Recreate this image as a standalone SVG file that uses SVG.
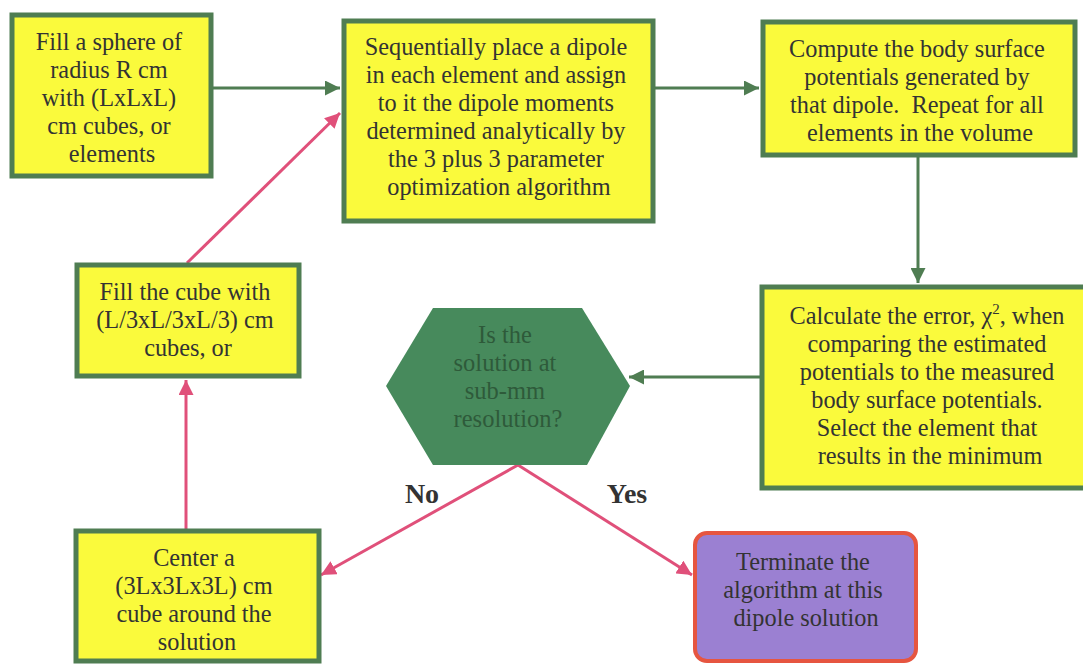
<svg xmlns="http://www.w3.org/2000/svg" width="1083" height="665" viewBox="0 0 1083 665">
  <style>
    text { font-family: "Liberation Serif", "Times New Roman", serif; }
    .box { fill: #fafa3c; stroke: #4f7d52; stroke-width: 5; }
    .txt { font-size: 24.3px; fill: #333333; text-anchor: middle; }
    .hex { fill: #478a5c; }
    .hextxt { font-size: 24.5px; fill: #2e5a3a; text-anchor: middle; }
    .term { fill: #9b80d2; stroke: #e65540; stroke-width: 4; }
    .lbl { font-size: 28px; font-weight: bold; fill: #333333; text-anchor: middle; }
    .g { stroke: #4f7d52; stroke-width: 3; fill: none; }
    .p { stroke: #e0507a; stroke-width: 3; fill: none; }
  </style>
  <defs>
    <marker id="ag" viewBox="0 0 10 10" refX="10" refY="5" markerWidth="5" markerHeight="5" orient="auto" markerUnits="strokeWidth">
      <path d="M0,0 L10,5 L0,10 Z" fill="#4f7d52"/>
    </marker>
    <marker id="ap" viewBox="0 0 10 10" refX="10" refY="5" markerWidth="5" markerHeight="5" orient="auto" markerUnits="strokeWidth">
      <path d="M0,0 L10,5 L0,10 Z" fill="#e0507a"/>
    </marker>
  </defs>

  <rect width="1083" height="665" fill="#ffffff"/>

  <!-- flow arrows: green for the main loop, pink for the refinement path -->
  <g id="connectors">
    <line class="g" x1="213" y1="88" x2="340" y2="88" marker-end="url(#ag)"/>
    <line class="g" x1="655" y1="88" x2="759" y2="88" marker-end="url(#ag)"/>
    <line class="g" x1="918" y1="157" x2="918" y2="283" marker-end="url(#ag)"/>
    <line class="g" x1="760" y1="377" x2="629" y2="377" marker-end="url(#ag)"/>
    <line class="p" x1="518" y1="465" x2="321" y2="575" marker-end="url(#ap)"/>
    <line class="p" x1="518" y1="465" x2="692" y2="575" marker-end="url(#ap)"/>
    <line class="p" x1="186" y1="529" x2="186" y2="380" marker-end="url(#ap)"/>
    <line class="p" x1="187" y1="263" x2="340" y2="113" marker-end="url(#ap)"/>
  </g>

  <g id="fill-sphere">
    <rect class="box" x="12" y="15" width="199" height="161"/>
    <text class="txt">
      <tspan x="112" y="50">Fill a sphere of</tspan>
      <tspan x="112" y="78">radius R cm</tspan>
      <tspan x="112" y="106">with (LxLxL)</tspan>
      <tspan x="112" y="134">cm cubes, or</tspan>
      <tspan x="112" y="162">elements</tspan>
    </text>
  </g>

  <g id="place-dipole">
    <rect class="box" x="344" y="21" width="309" height="200"/>
    <text class="txt">
      <tspan x="499" y="55">Sequentially place a dipole</tspan>
      <tspan x="499" y="83">in each element and assign</tspan>
      <tspan x="499" y="111">to it the dipole moments</tspan>
      <tspan x="499" y="139">determined analytically by</tspan>
      <tspan x="499" y="167">the 3 plus 3 parameter</tspan>
      <tspan x="499" y="195">optimization algorithm</tspan>
    </text>
  </g>

  <g id="compute-potentials">
    <rect class="box" x="763" y="22" width="312" height="133"/>
    <text class="txt">
      <tspan x="920" y="57">Compute the body surface</tspan>
      <tspan x="920" y="85">potentials generated by</tspan>
      <tspan x="920" y="113" xml:space="preserve">that dipole.  Repeat for all</tspan>
      <tspan x="920" y="141">elements in the volume</tspan>
    </text>
  </g>

  <g id="calculate-error">
    <rect class="box" x="762" y="287" width="340" height="201"/>
    <text class="txt">
      <tspan x="930" y="324">Calculate the error, χ<tspan dy="-10" font-size="15">2</tspan><tspan dy="10">, when</tspan></tspan>
      <tspan x="930" y="352">comparing the estimated</tspan>
      <tspan x="930" y="380">potentials to the measured</tspan>
      <tspan x="930" y="408">body surface potentials.</tspan>
      <tspan x="930" y="436">Select the element that</tspan>
      <tspan x="930" y="464">results in the minimum</tspan>
    </text>
  </g>

  <g id="decision">
    <polygon class="hex" points="433,308 582,308 630,386 587,465 433,465 386,386"/>
    <text class="hextxt">
      <tspan x="508" y="343">Is the</tspan>
      <tspan x="508" y="371">solution at</tspan>
      <tspan x="508" y="399">sub-mm</tspan>
      <tspan x="508" y="427">resolution?</tspan>
    </text>
  </g>

  <g id="fill-cube">
    <rect class="box" x="77" y="265" width="222" height="111"/>
    <text class="txt">
      <tspan x="188" y="300">Fill the cube with</tspan>
      <tspan x="188" y="328">(L/3xL/3xL/3) cm</tspan>
      <tspan x="188" y="356">cubes, or</tspan>
    </text>
  </g>

  <g id="center-cube">
    <rect class="box" x="76" y="531" width="243" height="130"/>
    <text class="txt">
      <tspan x="197" y="566">Center a</tspan>
      <tspan x="197" y="594">(3Lx3Lx3L) cm</tspan>
      <tspan x="197" y="622">cube around the</tspan>
      <tspan x="197" y="650">solution</tspan>
    </text>
  </g>

  <g id="terminate">
    <rect class="term" x="695" y="533" width="221" height="128" rx="12" ry="12"/>
    <text class="txt">
      <tspan x="806" y="570">Terminate the</tspan>
      <tspan x="806" y="598">algorithm at this</tspan>
      <tspan x="806" y="626">dipole solution</tspan>
    </text>
  </g>

  <g id="labels">
    <text class="lbl" x="422" y="503">No</text>
    <text class="lbl" x="627" y="503">Yes</text>
  </g>
</svg>
